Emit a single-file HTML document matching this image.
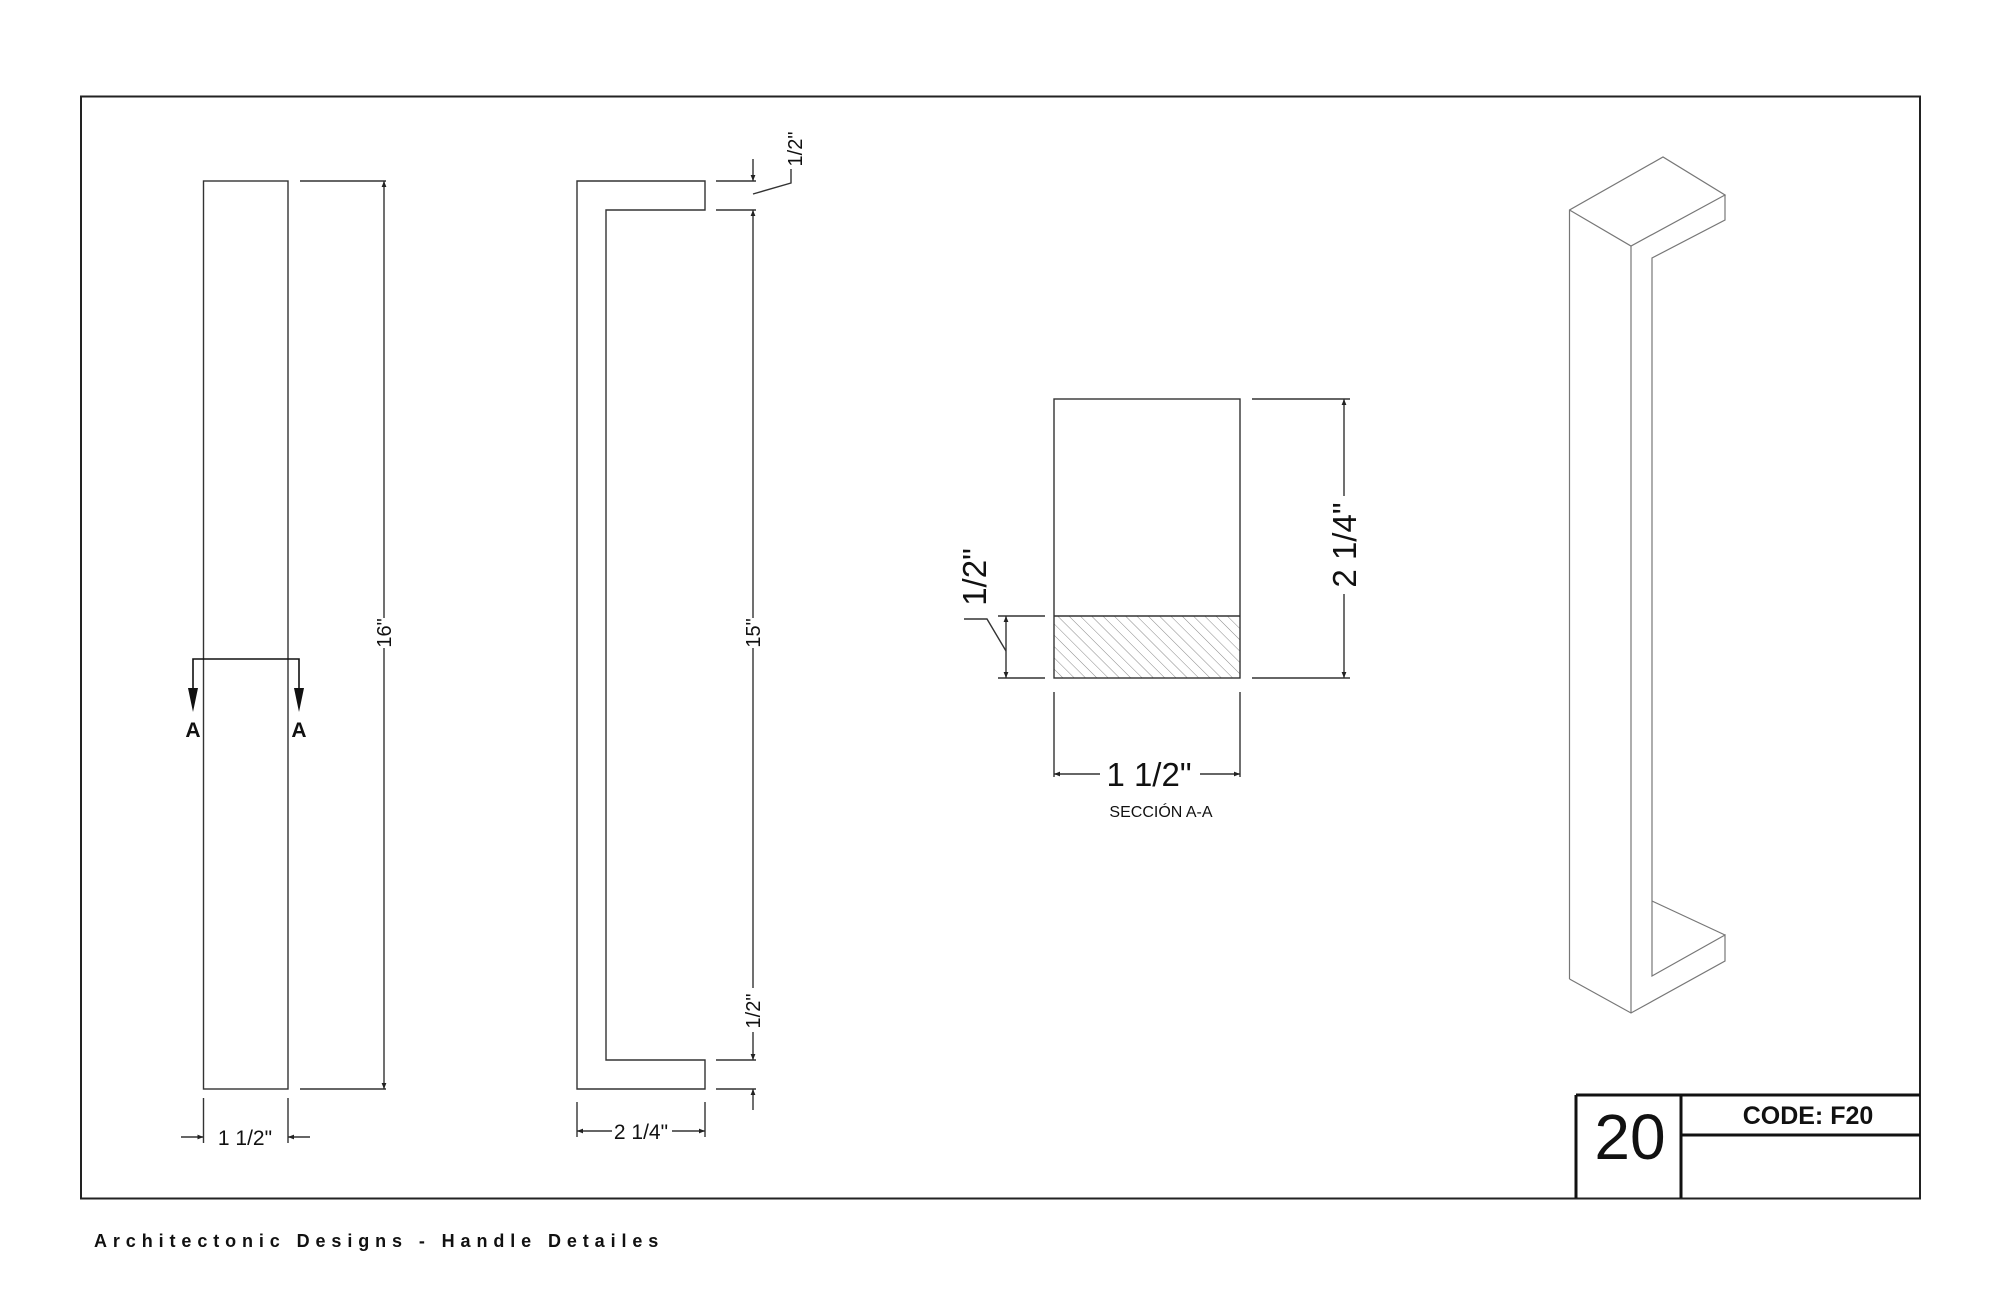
<!DOCTYPE html>
<html><head><meta charset="utf-8"><style>html,body{margin:0;padding:0;background:#fff}svg{display:block}</style></head>
<body>
<svg width="2000" height="1294" viewBox="0 0 2000 1294" xmlns="http://www.w3.org/2000/svg" font-family="Liberation Sans, Arial, sans-serif">
<defs>
<marker id="ar" viewBox="0 0 10 10" refX="10" refY="5" markerWidth="12" markerHeight="6" orient="auto-start-reverse" markerUnits="userSpaceOnUse"><path d="M0,1 L10,5 L0,9 z" fill="#222"/></marker>
<pattern id="hatch" width="8" height="8" patternUnits="userSpaceOnUse" patternTransform="rotate(-45)"><line x1="0" y1="0" x2="0" y2="8" stroke="#888" stroke-width="1"/></pattern>
</defs>
<rect width="2000" height="1294" fill="#fff"/>
<rect x="81" y="96.5" width="1839" height="1102" fill="none" stroke="#222" stroke-width="2"/>

<g stroke="#333" stroke-width="1.4" fill="none">
<rect x="203.5" y="181" width="84.5" height="908"/>
<line x1="300" y1="181" x2="386" y2="181"/>
<line x1="300" y1="1089" x2="386" y2="1089"/>
<line x1="384" y1="181" x2="384" y2="618" marker-start="url(#ar)"/>
<line x1="384" y1="648" x2="384" y2="1089" marker-end="url(#ar)"/>
<polyline points="193,690 193,659 299,659 299,690" stroke="#111" stroke-width="1.6"/>
<line x1="203.5" y1="1098" x2="203.5" y2="1143"/>
<line x1="288" y1="1098" x2="288" y2="1143"/>
<line x1="181" y1="1137" x2="203.5" y2="1137" marker-end="url(#ar)"/>
<line x1="310" y1="1137" x2="288" y2="1137" marker-end="url(#ar)"/>
<polygon points="577,181 705,181 705,210 606,210 606,1060 705,1060 705,1089 577,1089"/>
<line x1="716" y1="181" x2="756" y2="181"/>
<line x1="716" y1="210" x2="756" y2="210"/>
<line x1="716" y1="1060" x2="756" y2="1060"/>
<line x1="716" y1="1089" x2="756" y2="1089"/>
<line x1="753" y1="159" x2="753" y2="181" marker-end="url(#ar)"/>
<line x1="753" y1="210" x2="753" y2="618" marker-start="url(#ar)"/>
<line x1="753" y1="648" x2="753" y2="988"/>
<line x1="753" y1="1032" x2="753" y2="1060" marker-end="url(#ar)"/>
<line x1="753" y1="1089" x2="753" y2="1110" marker-start="url(#ar)"/>
<polyline points="753,194 791,183 791,169"/>
<line x1="577" y1="1102" x2="577" y2="1137"/>
<line x1="705" y1="1102" x2="705" y2="1137"/>
<line x1="577" y1="1131" x2="612" y2="1131" marker-start="url(#ar)"/>
<line x1="672" y1="1131" x2="705" y2="1131" marker-end="url(#ar)"/>
<rect x="1054" y="616" width="186" height="62" fill="url(#hatch)" stroke="none"/>
<rect x="1054" y="399" width="186" height="279"/>
<line x1="1054" y1="616" x2="1240" y2="616"/>
<line x1="1252" y1="399" x2="1350" y2="399"/>
<line x1="1252" y1="678" x2="1350" y2="678"/>
<line x1="1344" y1="399" x2="1344" y2="496" marker-start="url(#ar)"/>
<line x1="1344" y1="594" x2="1344" y2="678" marker-end="url(#ar)"/>
<line x1="998" y1="616" x2="1045" y2="616"/>
<line x1="998" y1="678" x2="1045" y2="678"/>
<line x1="1006" y1="616" x2="1006" y2="678" marker-start="url(#ar)" marker-end="url(#ar)"/>
<polyline points="964,619 987,619 1006,651"/>
<line x1="1054" y1="692" x2="1054" y2="777"/>
<line x1="1240" y1="692" x2="1240" y2="777"/>
<line x1="1054" y1="774" x2="1100" y2="774" marker-start="url(#ar)"/>
<line x1="1200" y1="774" x2="1240" y2="774" marker-end="url(#ar)"/>
</g>
<polygon points="188,688 198,688 193,712" fill="#111"/>
<polygon points="294,688 304,688 299,712" fill="#111"/>
<g stroke="#777" stroke-width="1.2" fill="none">
<polyline points="1569.5,979 1569.5,210 1663,157 1725,195 1631,246 1569.5,210"/>
<polyline points="1725,195 1725,220 1652,258 1652,976 1725,935 1725,961 1631,1013 1569.5,979"/>
<line x1="1631" y1="246" x2="1631" y2="1013"/>
<polyline points="1652,901 1725,935"/>
</g>

<g fill="#111" font-size="21" text-anchor="middle">
<text x="193" y="737" font-weight="bold" font-size="21">A</text>
<text x="299" y="737" font-weight="bold" font-size="21">A</text>
<text x="245" y="1145">1 1/2"</text>
<text x="641" y="1139">2 1/4"</text>
<text transform="translate(391,633) rotate(-90)" font-size="20">16"</text>
<text transform="translate(760,633) rotate(-90)" font-size="20">15"</text>
<text transform="translate(802,149) rotate(-90)" font-size="20">1/2"</text>
<text transform="translate(760,1011) rotate(-90)" font-size="20">1/2"</text>
<text transform="translate(986,577) rotate(-90)" font-size="33">1/2"</text>
<text transform="translate(1356,545) rotate(-90)" font-size="33">2 1/4"</text>
<text x="1149" y="786" font-size="33">1 1/2"</text>
<text x="1161" y="817" font-size="16">SECCIÓN A-A</text>
</g>

<g stroke="#111" stroke-width="3" fill="none">
<line x1="1576" y1="1095" x2="1920" y2="1095"/>
<line x1="1576" y1="1095" x2="1576" y2="1198"/>
<line x1="1681" y1="1095" x2="1681" y2="1198"/>
<line x1="1681" y1="1135" x2="1920" y2="1135"/>
</g>
<text x="1630" y="1142" font-size="64" text-anchor="middle" dominant-baseline="middle" fill="#111">20</text>
<text x="1808" y="1124" font-size="25" font-weight="bold" text-anchor="middle" fill="#111">CODE: F20</text>

<text x="94" y="1247" font-size="18" font-weight="bold" letter-spacing="5.9" fill="#111">Architectonic Designs - Handle Detailes</text>
</svg>
</body></html>
